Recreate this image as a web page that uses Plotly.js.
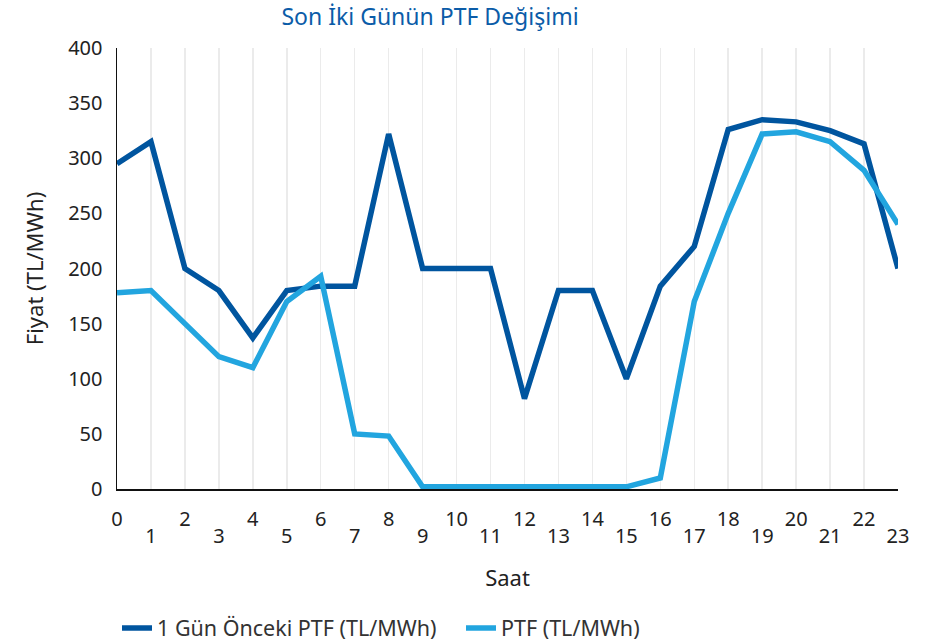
<!DOCTYPE html>
<html><head><meta charset="utf-8">
<script src="https://cdn.plot.ly/plotly-3.0.1.min.js"></script>
<style>html,body{margin:0;padding:0;background:#fff}#chart{width:943px;height:644px}</style>
</head><body><div id="chart"></div>
<script>
const hours = [0,1,2,3,4,5,6,7,8,9,10,11,12,13,14,15,16,17,18,19,20,21,22,23];
const prevDayPTF = [295,315,200,180,137,180,184,184,322,200,200,200,82,180,180,100,184,220,326,335,333,325,313,200];
const todayPTF = [178,180,150,120,110,170,193,50,48,2,2,2,2,2,2,2,10,170,250,322,324,315,289,240];
const seriesNames = ['1 Gün Önceki PTF (TL/MWh)', 'PTF (TL/MWh)'];
const yTicks = [0,50,100,150,200,250,300,350,400];
const evenText = hours.map(h => (h % 2 === 0 ? String(h) : ''));
const oddHours = hours.filter(h => h % 2 === 1);
const oddText = oddHours.map(String);

const font = '"Noto Sans", "Open Sans", sans-serif';
const traces = [
  {x: hours, y: prevDayPTF, name: seriesNames[0], type: 'scatter', mode: 'lines',
   line: {color: '#00559F', width: 5.5}},
  {x: hours, y: todayPTF, name: seriesNames[1], type: 'scatter', mode: 'lines',
   line: {color: '#22A5DF', width: 5.5}},
  // invisible helper trace so the second (odd-label) x axis is drawn
  {x: hours, y: todayPTF, xaxis: 'x2', type: 'scatter', mode: 'lines', showlegend: false,
   hoverinfo: 'skip', line: {color: 'rgba(0,0,0,0)', width: 0}}
];
const layout = {
  width: 943, height: 644,
  margin: {l: 117, r: 45, t: 48, b: 155},
  paper_bgcolor: '#fff', plot_bgcolor: '#fff',
  font: {family: font, color: '#222', size: 20},
  title: {text: 'Son İki Günün PTF Değişimi', x: 0.456, xanchor: 'center', yref: 'container', y: 0.974, yanchor: 'middle',
          font: {family: font, size: 23, color: '#0B5CA8'}},
  xaxis: {range: [0, 23], tickvals: hours, ticktext: evenText, showgrid: true, gridcolor: '#EBEBEB', gridwidth: 1.5,
          showline: true, linecolor: '#111', linewidth: 1.5, ticks: '', zeroline: false,
          ticklabelstandoff: 11,
          tickfont: {size: 20, color: '#222'},
          title: {text: 'Saat', standoff: 40, font: {size: 22, color: '#222'}}},
  xaxis2: {range: [0, 23], overlaying: 'x', anchor: 'y', side: 'bottom',
           tickvals: oddHours, ticktext: oddText, showgrid: false, showline: false, zeroline: false, ticks: '',
           ticklabelstandoff: 33, tickfont: {size: 20, color: '#222'}},
  yaxis: {range: [0, 400], tickvals: yTicks, showgrid: false,
          showline: true, linecolor: '#111', linewidth: 1.5, ticks: '', zeroline: false,
          ticklabelstandoff: 9,
          tickfont: {size: 20, color: '#222'},
          title: {text: 'Fiyat (TL/MWh)', standoff: 18, font: {size: 22, color: '#222'}}},
  legend: {orientation: 'h', x: 0.0, xanchor: 'left', yref: 'container', y: 0.025, yanchor: 'middle',
           font: {size: 21.5, color: '#333'}, entrywidth: 299, entrywidthmode: 'pixels', itemwidth: 30},
  showlegend: true
};
Plotly.newPlot('chart', traces, layout, {displayModeBar: false, staticPlot: true});
</script></body></html>
